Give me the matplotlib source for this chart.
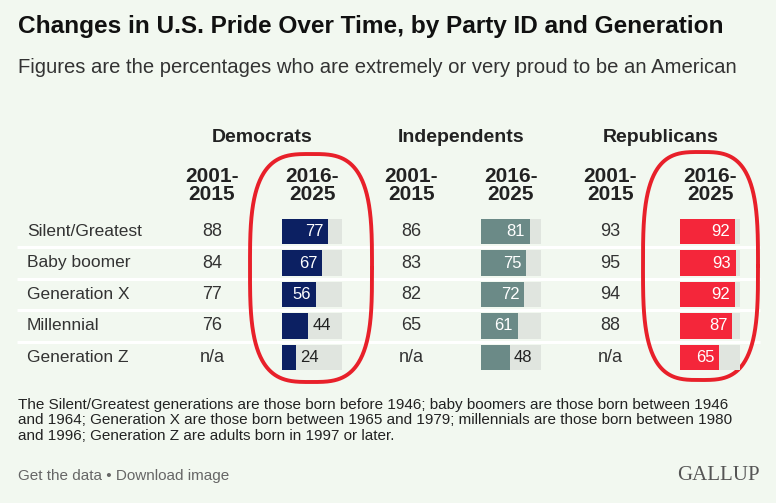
import numpy as np
import matplotlib.pyplot as plt

# data
generations = ["Silent/Greatest", "Baby boomer", "Generation X", "Millennial", "Generation Z"]
parties = ["Democrats", "Independents", "Republicans"]
early = {
    "Democrats": ["88", "84", "77", "76", "n/a"],
    "Independents": ["86", "83", "82", "65", "n/a"],
    "Republicans": ["93", "95", "94", "88", "n/a"],
}
recent = {
    "Democrats": [77, 67, 56, 44, 24],
    "Independents": [81, 75, 72, 61, 48],
    "Republicans": [92, 93, 92, 87, 65],
}
colors = {"Democrats": "#0c2062", "Independents": "#6b8a87", "Republicans": "#f4263a"}

BG = "#f2f8f0"
TRACK = "#e0e5df"
W, H = 776, 503
FONT = ["Liberation Sans", "DejaVu Sans"]

fig = plt.figure(figsize=(W / 100, H / 100), dpi=100, facecolor=BG)
ax = fig.add_axes([0, 0, 1, 1])
ax.set_xlim(0, W)
ax.set_ylim(H, 0)
ax.axis("off")
ax.set_facecolor(BG)

ax.text(18, 33, "Changes in U.S. Pride Over Time, by Party ID and Generation",
        fontsize=17.6, fontweight="bold", family=FONT, color="#111111", va="baseline")
ax.text(18, 73, "Figures are the percentages who are extremely or very proud to be an American",
        fontsize=14.6, family=FONT, color="#333333", va="baseline")

row0, step = 231.5, 31.5
row_y = [row0 + i * step for i in range(len(generations))]
col_early = [212, 411.5, 610.5]
col_recent = [312, 511, 710]
bar_left = [282, 481, 680]

# row separators
for i in range(len(generations) - 1):
    y = (row_y[i] + row_y[i + 1]) / 2
    ax.plot([17, 760], [y, y], color="white", lw=2.2, solid_capstyle="butt")

for i, g in enumerate(generations):
    ax.text(27, row_y[i], g, fontsize=12.5, family=FONT, color="#333333", va="center")

for p, party in enumerate(parties):
    ax.text((col_early[p] + col_recent[p]) / 2, 137.5, party, fontsize=14, fontweight="bold",
            family=FONT, color="#222222", ha="center", va="center")
    for cx, (l1, l2) in ((col_early[p], ("2001-", "2015")), (col_recent[p], ("2016-", "2025"))):
        ax.text(cx, 176, l1, fontsize=15, fontweight="bold", family=FONT, color="#222222",
                ha="center", va="center")
        ax.text(cx, 195, l2, fontsize=15, fontweight="bold", family=FONT, color="#222222",
                ha="center", va="center")
    for i, v in enumerate(early[party]):
        ax.text(col_early[p], row_y[i], v, fontsize=13, family=FONT, color="#333333",
                ha="center", va="center")

    # bar column as its own axes, 0-100 scale
    top = row_y[0] - step / 2
    bottom = row_y[-1] + step / 2
    bax = fig.add_axes([bar_left[p] / W, 1 - bottom / H, 60 / W, (bottom - top) / H])
    bax.set_xlim(0, 100)
    bax.set_ylim(len(generations) - 0.5, -0.5)
    bax.axis("off")
    ypos = np.arange(len(generations))
    vals = recent[party]
    bax.barh(ypos, [100] * len(vals), height=0.8, color=TRACK)
    bax.barh(ypos, vals, height=0.8, color=colors[party])
    for i, v in enumerate(vals):
        if v >= 50:
            bax.annotate(str(v), (v, i), xytext=(-3.5, 0), textcoords="offset points",
                         ha="right", va="center", fontsize=12, family=FONT, color="white")
        else:
            bax.annotate(str(v), (v, i), xytext=(3, 0), textcoords="offset points",
                         ha="left", va="center", fontsize=12, family=FONT, color="#222222")

# red hand-drawn circles around the recent columns
t = np.linspace(0, 2 * np.pi, 400)
n = 3.2
for cx, cy, a, b in ((311, 268, 61, 114), (700.5, 266, 57.5, 114)):
    xs = cx + a * np.sign(np.cos(t)) * np.abs(np.cos(t)) ** (2 / n)
    ys = cy + b * np.sign(np.sin(t)) * np.abs(np.sin(t)) ** (2 / n)
    ax.plot(xs, ys, color="#e8202a", lw=2.8, zorder=10)

note_lines = [
    "The Silent/Greatest generations are those born before 1946; baby boomers are those born between 1946",
    "and 1964; Generation X are those born between 1965 and 1979; millennials are those born between 1980",
    "and 1996; Generation Z are adults born in 1997 or later.",
]
for k, line in enumerate(note_lines):
    ax.text(18, 409 + k * 15.3, line, fontsize=11, family=FONT, color="#222222", va="baseline")

ax.text(18, 480, "Get the data \u2022 Download image", fontsize=11, family=FONT,
        color="#666666", va="baseline")
ax.text(760, 480, "GALLUP", fontsize=15, family=["Liberation Serif", "DejaVu Serif"],
        color="#555555", ha="right", va="baseline")

fig.savefig("out.png", dpi=100, facecolor=BG)
